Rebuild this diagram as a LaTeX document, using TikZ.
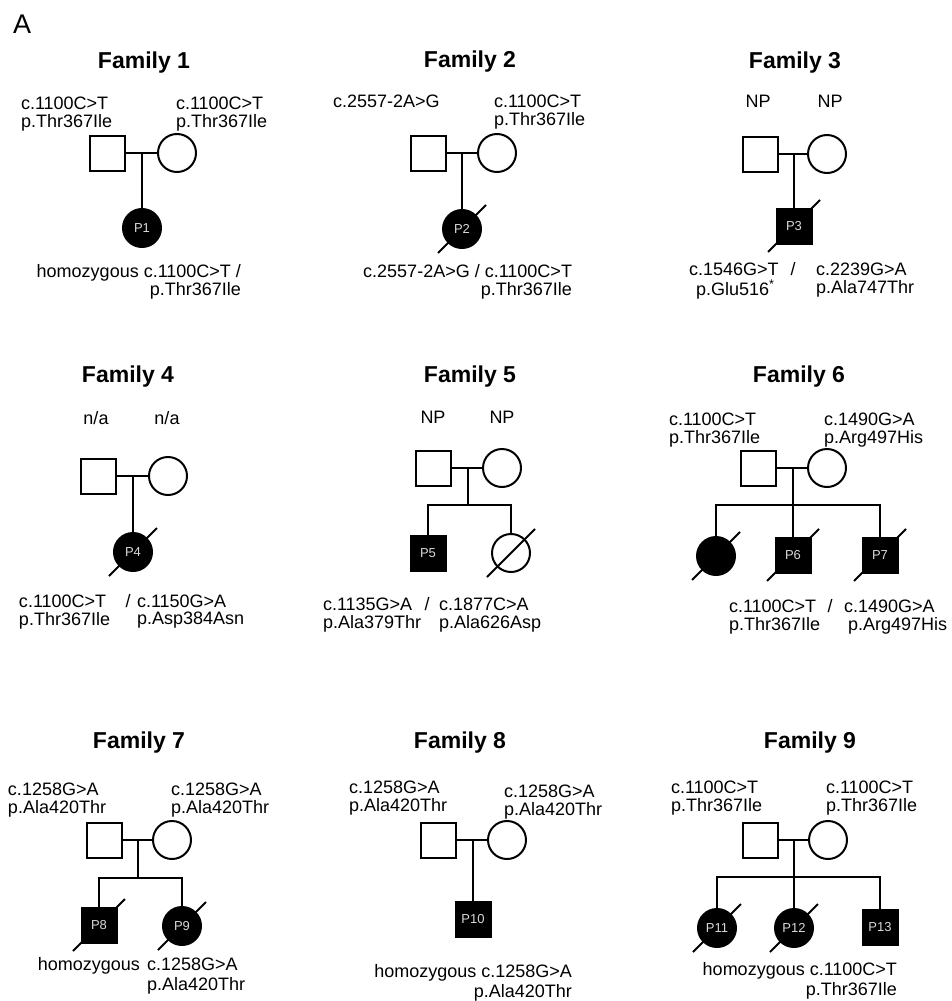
\documentclass[tikz,border=0pt]{standalone}
\usepackage{fontspec}
\setmainfont{Liberation Sans}
\usetikzlibrary{backgrounds}
\newcommand{\mutl}[3][0pt]{\begin{tabular}[t]{@{}l@{}}#2\\[#1]#3\end{tabular}}
\newcommand{\mutr}[3][0pt]{\begin{tabular}[t]{@{}r@{}}#2\\[#1]#3\end{tabular}}

\begin{document}
\begin{tikzpicture}[x=1pt, y=-1pt, line width=2pt,
  male/.style={draw, rectangle, minimum size=35pt, inner sep=0pt},
  female/.style={draw, circle, minimum size=38pt, inner sep=0pt},
  aff/.style={fill=black, text=gray!30, font=\fontsize{13}{13}\selectfont},
  fam/.style={anchor=base, inner sep=0pt, font=\bfseries\fontsize{23}{23}\selectfont},
  lbl/.style={anchor=base west, inner sep=0pt, font=\fontsize{18}{17}\selectfont},
  lblr/.style={lbl, anchor=base east},
  lblc/.style={lbl, anchor=base}]
  \useasboundingbox (0,0) rectangle (951,1001);
  \node[anchor=base west, inner sep=0pt, font=\fontsize{27}{27}\selectfont] (A) at (12,33) {A};

  % Family 1
  \node[fam] (t1) at (144,68) {Family 1};
  \node[lbl] (f1fl) at (20,109) {\mutl{c.1100C>T}{p.Thr367Ile}};
  \node[lbl] (f1ml) at (175,109) {\mutl{c.1100C>T}{p.Thr367Ile}};
  \node[male] (f1fa) at (107,153) {};
  \node[female] (f1mo) at (177,153) {};
  \node[female, aff] (p1) at (142,228) {P1};
  \draw (f1fa) -- (f1mo);
  \draw (p1 |- f1fa) -- (p1);
  \node[lblr] (p1l) at (242,277) {\mutr{homozygous c.1100C>T /}{p.Thr367Ile}};

  % Family 2
  \node[fam] (t2) at (470,67) {Family 2};
  \node[lbl] (f2fl) at (332,107) {c.2557-2A>G};
  \node[lbl] (f2ml) at (493,107) {\mutl{c.1100C>T}{p.Thr367Ile}};
  \node[male] (f2fa) at (428,153) {};
  \node[female] (f2mo) at (497,153) {};
  \node[female, aff] (p2) at (462,229) {P2};
  \draw (f2fa) -- (f2mo);
  \draw (p2 |- f2fa) -- (p2);
  \node[lblr] (p2l) at (573,277) {\mutr{c.2557-2A>G / c.1100C>T}{p.Thr367Ile}};

  % Family 3
  \node[fam] (t3) at (795,68) {Family 3};
  \node[lblc] (f3fl) at (758,107) {NP};
  \node[lblc] (f3ml) at (830,107) {NP};
  \node[male] (f3fa) at (760,154) {};
  \node[female] (f3mo) at (827,154) {};
  \node[male, aff] (p3) at (794,226) {P3};
  \draw (f3fa) -- (f3mo);
  \draw (p3 |- f3fa) -- (p3);
  \node[lbl] (p3a) at (688,275) {\mutl{c.1546G>T}{\hspace{7pt}p.Glu516\textsuperscript{*}}};
  \node[lblc] (p3s) at (793,275) {/};
  \node[lbl] (p3b) at (815,275) {\mutl{c.2239G>A}{p.Ala747Thr}};

  % Family 4
  \node[fam] (t4) at (128,382) {Family 4};
  \node[lblc] (f4fl) at (96,424) {n/a};
  \node[lblc] (f4ml) at (167,424) {n/a};
  \node[male] (f4fa) at (98,476) {};
  \node[female] (f4mo) at (168,476) {};
  \node[female, aff] (p4) at (133,552) {P4};
  \draw (f4fa) -- (f4mo);
  \draw (p4 |- f4fa) -- (p4);
  \node[lbl] (p4a) at (18,607) {\mutl{c.1100C>T}{p.Thr367Ile}};
  \node[lblc] (p4s) at (128,607) {/};
  \node[lbl] (p4b) at (136,607) {\mutl{c.1150G>A}{p.Asp384Asn}};

  % Family 5
  \node[fam] (t5) at (470,382) {Family 5};
  \node[lblc] (f5fl) at (433,423) {NP};
  \node[lblc] (f5ml) at (502,423) {NP};
  \node[male] (f5fa) at (433,468) {};
  \node[female] (f5mo) at (502,468) {};
  \coordinate (f5s) at (468,505);
  \node[male, aff] (p5) at (428,553) {P5};
  \node[female] (f5d) at (511,553) {};
  \draw (f5fa) -- (f5mo);
  \draw (f5s |- f5fa) -- (f5s);
  \draw (p5) -- (p5 |- f5s) -- (f5d |- f5s) -- (f5d);
  \node[lbl] (p5a) at (322,610) {\mutl{c.1135G>A}{p.Ala379Thr}};
  \node[lblc] (p5s) at (427,610) {/};
  \node[lbl] (p5b) at (438,610) {\mutl{c.1877C>A}{p.Ala626Asp}};

  % Family 6
  \node[fam] (t6) at (799,382) {Family 6};
  \node[lbl] (f6fl) at (668,425) {\mutl{c.1100C>T}{p.Thr367Ile}};
  \node[lbl] (f6ml) at (823,425) {\mutl{c.1490G>A}{p.Arg497His}};
  \node[male] (f6fa) at (758,468) {};
  \node[female] (f6mo) at (827,468) {};
  \coordinate (f6s) at (793,505);
  \node[female, aff] (f6d) at (716,556) {};
  \node[male, aff] (p6) at (793,555) {P6};
  \node[male, aff] (p7) at (880,555) {P7};
  \draw (f6fa) -- (f6mo);
  \draw (p6 |- f6fa) -- (p6);
  \draw (f6d) -- (f6d |- f6s) -- (p7 |- f6s) -- (p7);
  \node[lbl] (p6a) at (728,612) {\mutl{c.1100C>T}{p.Thr367Ile}};
  \node[lblc] (p6s) at (830,612) {/};
  \node[lbl] (p7a) at (843,612) {\mutl{c.1490G>A}{\hspace{4pt}p.Arg497His}};

  % Family 7
  \node[fam] (t7) at (139,748) {Family 7};
  \node[lbl] (f7fl) at (7,795) {\mutl{c.1258G>A}{p.Ala420Thr}};
  \node[lbl] (f7ml) at (170,795) {\mutl{c.1258G>A}{p.Ala420Thr}};
  \node[male] (f7fa) at (104,840) {};
  \node[female] (f7mo) at (172,840) {};
  \coordinate (f7s) at (138,878);
  \node[male, aff] (p8) at (99,925) {P8};
  \node[female, aff] (p9) at (182,926) {P9};
  \draw (f7fa) -- (f7mo);
  \draw (f7s |- f7fa) -- (f7s);
  \draw (p8) -- (p8 |- f7s) -- (p9 |- f7s) -- (p9);
  \node[lblr] (p8l) at (141,970) {homozygous};
  \node[lbl] (p9l) at (146,970) {\mutl[2pt]{c.1258G>A}{p.Ala420Thr}};

  % Family 8
  \node[fam] (t8) at (460,748) {Family 8};
  \node[lbl] (f8fl) at (348,793) {\mutl{c.1258G>A}{p.Ala420Thr}};
  \node[lbl] (f8ml) at (503,797) {\mutl{c.1258G>A}{p.Ala420Thr}};
  \node[male] (f8fa) at (438,840) {};
  \node[female] (f8mo) at (507,840) {};
  \node[male, aff] (p10) at (473,919) {P10};
  \draw (f8fa) -- (f8mo);
  \draw (p10 |- f8fa) -- (p10);
  \node[lblr] (p10l) at (573,977) {\mutr[2pt]{homozygous c.1258G>A}{p.Ala420Thr}};

  % Family 9
  \node[fam] (t9) at (810,748) {Family 9};
  \node[lbl] (f9fl) at (670,793) {\mutl{c.1100C>T}{p.Thr367Ile}};
  \node[lbl] (f9ml) at (825,793) {\mutl{c.1100C>T}{p.Thr367Ile}};
  \node[male] (f9fa) at (760,840) {};
  \node[female] (f9mo) at (828,840) {};
  \coordinate (f9s) at (794,877);
  \node[female, aff] (p11) at (717,928) {P11};
  \node[female, aff] (p12) at (794,928) {P12};
  \node[male, aff] (p13) at (880,927) {P13};
  \draw (f9fa) -- (f9mo);
  \draw (p12 |- f9fa) -- (p12);
  \draw (p11) -- (p11 |- f9s) -- (p13 |- f9s) -- (p13);
  \node[lblr] (p13l) at (898,975) {\mutr[2pt]{homozygous c.1100C>T}{p.Thr367Ile}};

  % deceased: slashes behind the symbols
  \begin{scope}[on background layer={line width=2pt}]
    \foreach \n in {p2, p4, f5d, f6d, p9, p11, p12}
      \draw ([shift={(-24,24)}]\n.center) -- ([shift={(24,-24)}]\n.center);
    \foreach \n in {p3, p6, p7, p8}
      \draw ([shift={(-26,26)}]\n.center) -- ([shift={(26,-26)}]\n.center);
  \end{scope}
\end{tikzpicture}
\end{document}
